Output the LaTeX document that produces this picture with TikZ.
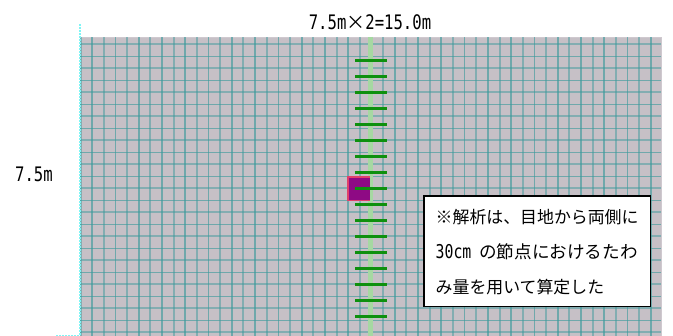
\documentclass[tikz,border=0pt]{standalone}
\usepackage{fontspec}
\newfontfamily\cjk{Noto Sans CJK JP}
\newfontfamily\latn[FakeStretch=0.78]{DejaVu Sans Mono}
\definecolor{plate}{HTML}{C6C0C6}
\definecolor{gridc}{HTML}{3A9A9C}
\definecolor{jointc}{HTML}{A6D8A2}
\definecolor{tickc}{HTML}{0E900E}
\definecolor{cyanc}{HTML}{7FF5F5}
\definecolor{loadc}{HTML}{8E0A84}
\definecolor{loadb}{HTML}{E0406A}
\tikzset{
  gridline/.style={draw=gridc,line width=1.7pt,opacity=0.62},
  gridlight/.style={draw=gridc,line width=2pt,opacity=0.48},
  tick/.style={draw=tickc,line width=2.3pt},
  label/.style={inner sep=0pt,font=\fontsize{20}{24}\selectfont},
  noteline/.style={inner sep=0pt,anchor=west,font=\fontsize{16.9}{20}\selectfont\cjk}
}
\begin{document}
\begin{tikzpicture}[x=1pt,y=-1pt]
\useasboundingbox (0,0) rectangle (673,336);
\fill[plate] (80,37.5) rectangle (661,336);
\draw[plate!85!white,line width=0.8pt] (80,37.5) -- (661,37.5) -- (661,336);
% grid: vertical lines
\foreach \n in {0,...,49} {
  \pgfmathsetmacro{\xx}{80.5+11.64*\n}
  \pgfmathtruncatemacro{\odd}{mod(\n,2)}
  \ifnum\odd=0
    \draw[gridlight] (\xx,37.5) -- (\xx,336);
  \else
    \draw[gridline] (\xx,37.5) -- (\xx,336);
  \fi
}
% grid: horizontal lines
\foreach \n in {0,...,24} {
  \pgfmathsetmacro{\yy}{44.5+12*\n}
  \pgfmathtruncatemacro{\odd}{mod(\n,2)}
  \ifnum\odd=0
    \draw[gridlight] (80,\yy) -- (661,\yy);
  \else
    \draw[gridline] (80,\yy) -- (661,\yy);
  \fi
}
% cyan edge marks
\draw[cyanc,line width=2.4pt,dash pattern=on 2pt off 1pt] (80,24) -- (80,336);
\draw[cyanc,line width=1.4pt,dash pattern=on 2pt off 1pt] (56,335.3) -- (80,335.3);
% joint
\draw[jointc,line width=4.4pt] (370.3,37) -- (370.3,336);
% load plate
\fill[loadc] (348,177) rectangle (369.5,200.3);
\draw[loadb,line width=1.2pt] (369.5,177) -- (348,177) -- (348,200.3) -- (369.5,200.3);
% node ticks
\foreach \n in {0,...,16} {
  \pgfmathsetmacro{\yy}{60.5+16*\n}
  \draw[tick] (355,\yy) -- (387,\yy);
}
% labels
\node[label] (span) at (370,22) {\latn 7.5m\makebox[19pt]{\cjk\fontsize{19}{24}\selectfont ×}2=15.0m};
\node[label] (depth) at (34,174) {\latn 7.5m};
% note
\node[draw=black,line width=1.5pt,fill=white,minimum width=226.5pt,minimum height=110.5pt,inner sep=0pt] (note) at (537,251.3) {};
\node[noteline] (l1) at (435.5,217) {※解析は、目地から両側に};
\node[noteline] (l2a) at (435.5,252) {\latn\fontsize{19}{20}\selectfont 30cm};
\node[noteline] (l2b) at (479,252) {\fontsize{17.6}{20}\selectfont の節点におけるたわ};
\node[noteline] (l3) at (435.5,287) {み量を用いて算定した};
\end{tikzpicture}
\end{document}
